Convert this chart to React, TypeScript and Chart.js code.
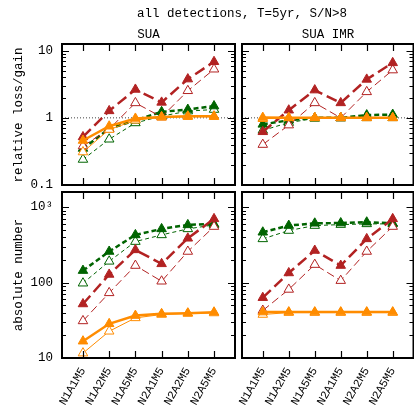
import React, { useEffect, useRef } from 'react';
import { Chart, registerables } from 'chart.js';
Chart.register(...registerables);

const categories = ['N1A1M5', 'N1A2M5', 'N1A5M5', 'N2A1M5', 'N2A2M5', 'N2A5M5'];

// relative loss/gain, SUA
const relSuaRedFilled = [0.52, 1.27, 2.65, 1.7, 3.78, 6.85];
const relSuaRedOpen = [0.38, 0.68, 1.67, 1.03, 2.53, 5.3];
const relSuaGreenFilled = [0.35, 0.69, 0.92, 1.23, 1.33, 1.5];
const relSuaGreenOpen = [0.24, 0.48, 0.84, 1.06, 1.26, 1.33];
const relSuaOrangeFilled = [0.46, 0.75, 0.98, 1.03, 1.06, 1.06];
const relSuaOrangeOpen = [0.31, 0.67, 0.92, 1.02, 1.04, 1.04];

// relative loss/gain, SUA IMR
const relImrRedFilled = [0.62, 1.3, 2.59, 1.67, 3.74, 6.6];
const relImrRedOpen = [0.4, 0.78, 1.67, 1.0, 2.44, 5.15];
const relImrGreenFilled = [0.8, 0.92, 1.0, 1.0, 1.1, 1.12];
const relImrGreenOpen = [0.65, 0.85, 0.98, 0.99, 1.0, 1.0];
const relImrOrangeFilled = [1.01, 1.0, 1.0, 1.0, 1.0, 1.0];
const relImrOrangeOpen = [0.97, 1.0, 1.0, 1.0, 1.0, 1.0];

// absolute number, SUA
const absSuaRedFilled = [52, 128, 271, 177, 386, 698];
const absSuaRedOpen = [31, 73, 168, 104, 258, 552];
const absSuaGreenFilled = [144, 258, 428, 514, 581, 599];
const absSuaGreenOpen = [98, 191, 349, 428, 514, 581];
const absSuaOrangeFilled = [16.7, 28.4, 36.5, 38.5, 39.2, 40.4];
const absSuaOrangeOpen = [11.6, 22.6, 34, 37.7, 39, 39.5];

// absolute number, SUA IMR
const absImrRedFilled = [63, 134, 266, 168, 379, 698];
const absImrRedOpen = [42.6, 81, 173, 106, 258, 552];
const absImrGreenFilled = [464, 569, 610, 615, 630, 610];
const absImrGreenOpen = [379, 489, 569, 586, 599, 599];
const absImrOrangeFilled = [40.6, 40.6, 40.6, 40.6, 40.6, 40.6];
const absImrOrangeOpen = [37.7, 40, 40, 40, 40, 40];

const relTickValues = [0.1, 1, 10];
const absTickValues = [10, 100, 1000];

const XMIN = -0.8;
const XMAX = 5.8;
const W = 420;
const H = 406;

const RED = '#b22222';
const GREEN = '#006400';
const ORANGE = '#ff8c00';
const FONT = "'Liberation Mono', monospace";

const framePlugin = {
  id: 'frame',
  afterDraw(chart: any) {
    const { ctx, chartArea: a, scales } = chart;
    ctx.save();
    ctx.strokeStyle = '#000';
    ctx.lineWidth = 1.2;
    ctx.beginPath();
    categories.forEach((_, i) => {
      const x = Math.round(scales.x.getPixelForValue(i)) + 0.5;
      ctx.moveTo(x, a.bottom);
      ctx.lineTo(x, a.bottom - 7);
      ctx.moveTo(x, a.top);
      ctx.lineTo(x, a.top + 7);
    });
    const ys = scales.y;
    const lo = Math.floor(Math.log10(ys.min));
    const hi = Math.ceil(Math.log10(ys.max));
    for (let e = lo; e <= hi; e++) {
      for (let k = 1; k <= 9; k++) {
        const v = k * Math.pow(10, e);
        if (v < ys.min * 0.999 || v > ys.max * 1.001) continue;
        const y = Math.round(ys.getPixelForValue(v)) + 0.5;
        const len = k === 1 ? 7 : 4;
        ctx.moveTo(a.left, y);
        ctx.lineTo(a.left + len, y);
        ctx.moveTo(a.right, y);
        ctx.lineTo(a.right - len, y);
      }
    }
    ctx.stroke();
    ctx.lineWidth = 2;
    ctx.strokeRect(a.left, a.top, a.right - a.left, a.bottom - a.top);
    ctx.restore();
  },
};

type Panel = {
  left: number; top: number; right: number; bottom: number;
  yMin: number; yMax: number; yTicks: number[];
  showX: boolean; showY: boolean; refLine: boolean;
  red: number[]; redOpen: number[]; green: number[]; greenOpen: number[]; orange: number[]; orangeOpen: number[];
};

const pts = (arr: number[]) => arr.map((v, i) => ({ x: i, y: v }));

function series(data: number[], color: string, filled: boolean, dash: number[]) {
  return {
    data: pts(data),
    borderColor: color,
    borderWidth: filled ? 2.5 : 1,
    borderDash: dash,
    pointStyle: 'triangle',
    pointRadius: 5.5,
    pointBackgroundColor: filled ? color : '#ffffff',
    pointBorderColor: color,
    pointBorderWidth: 1,
    fill: false,
    tension: 0,
  };
}

function makeConfig(p: Panel): any {
  const datasets: any[] = [
    series(p.orange, ORANGE, true, []),
    series(p.orangeOpen, ORANGE, false, []),
    series(p.red, RED, true, [11, 5]),
    series(p.redOpen, RED, false, [8, 4]),
    series(p.green, GREEN, true, [5, 3]),
    series(p.greenOpen, GREEN, false, [4, 3]),
  ];
  if (p.refLine) {
    datasets.push({
      data: [{ x: XMIN, y: 1 }, { x: XMAX, y: 1 }],
      borderColor: '#444',
      borderWidth: 1,
      borderDash: [1, 2],
      pointRadius: 0,
      fill: false,
    });
  }
  return {
    type: 'line',
    data: { datasets },
    options: {
      responsive: false,
      animation: false,
      events: [],
      layout: { padding: { left: 0, top: p.top, right: W - p.right, bottom: 0 } },
      plugins: { legend: { display: false }, tooltip: { enabled: false }, title: { display: false } },
      scales: {
        x: {
          type: 'linear',
          min: XMIN,
          max: XMAX,
          grid: { display: false, drawTicks: false },
          border: { display: false },
          afterBuildTicks: (s: any) => { s.ticks = categories.map((_, i) => ({ value: i })); },
          afterFit: (s: any) => { s.height = H - p.bottom; },
          ticks: {
            display: p.showX,
            autoSkip: false,
            minRotation: 60,
            maxRotation: 60,
            padding: 7,
            color: '#000',
            font: { family: FONT, size: 11.5 },
            callback: (v: any) => categories[Math.round(Number(v))],
          },
        },
        y: {
          type: 'logarithmic',
          min: p.yMin,
          max: p.yMax,
          grid: { display: false, drawTicks: false },
          border: { display: false },
          afterBuildTicks: (s: any) => { s.ticks = p.yTicks.map((v) => ({ value: v })); },
          afterFit: (s: any) => { s.width = p.left; },
          ticks: {
            display: p.showY,
            padding: 9,
            color: '#000',
            font: { family: FONT, size: 12.5 },
            callback: (v: any) => (Number(v) === 1000 ? '10\u00b3' : String(v)),
          },
        },
      },
    },
    plugins: [framePlugin],
  };
}

const panels: Panel[] = [
  { left: 62, top: 44, right: 235, bottom: 185, yMin: 0.1, yMax: 12.59, yTicks: relTickValues, showX: false, showY: true, refLine: true,
    red: relSuaRedFilled, redOpen: relSuaRedOpen, green: relSuaGreenFilled, greenOpen: relSuaGreenOpen, orange: relSuaOrangeFilled, orangeOpen: relSuaOrangeOpen },
  { left: 242, top: 44, right: 415.5, bottom: 185, yMin: 0.1, yMax: 12.59, yTicks: relTickValues, showX: false, showY: false, refLine: true,
    red: relImrRedFilled, redOpen: relImrRedOpen, green: relImrGreenFilled, greenOpen: relImrGreenOpen, orange: relImrOrangeFilled, orangeOpen: relImrOrangeOpen },
  { left: 62, top: 192, right: 235, bottom: 358, yMin: 10, yMax: 1585, yTicks: absTickValues, showX: true, showY: true, refLine: false,
    red: absSuaRedFilled, redOpen: absSuaRedOpen, green: absSuaGreenFilled, greenOpen: absSuaGreenOpen, orange: absSuaOrangeFilled, orangeOpen: absSuaOrangeOpen },
  { left: 242, top: 192, right: 415.5, bottom: 358, yMin: 10, yMax: 1585, yTicks: absTickValues, showX: true, showY: false, refLine: false,
    red: absImrRedFilled, redOpen: absImrRedOpen, green: absImrGreenFilled, greenOpen: absImrGreenOpen, orange: absImrOrangeFilled, orangeOpen: absImrOrangeOpen },
];

function PanelChart({ p }: { p: Panel }) {
  const ref = useRef<HTMLCanvasElement>(null);
  useEffect(() => {
    if (!ref.current) return;
    const chart = new Chart(ref.current, makeConfig(p));
    return () => chart.destroy();
  }, [p]);
  return (
    <canvas
      ref={ref}
      width={W}
      height={H}
      style={{ position: 'absolute', left: 0, top: 0, width: W, height: H }}
    />
  );
}

const textBase: React.CSSProperties = {
  position: 'absolute',
  fontFamily: FONT,
  fontSize: 12.5,
  color: '#000',
  whiteSpace: 'nowrap',
  lineHeight: 1,
  transform: 'translate(-50%, -50%)',
};

export default function App() {
  return (
    <div style={{ position: 'fixed', left: 0, top: 0, width: 414, height: 406, overflow: 'hidden', background: '#fff' }}>
      {panels.map((p, i) => (
        <PanelChart key={i} p={p} />
      ))}
      <div style={{ ...textBase, left: 242, top: 14 }}>all detections, T=5yr, S/N&gt;8</div>
      <div style={{ ...textBase, left: 148.5, top: 35 }}>SUA</div>
      <div style={{ ...textBase, left: 328, top: 35 }}>SUA IMR</div>
      <div style={{ ...textBase, left: 19, top: 115, transform: 'translate(-50%, -50%) rotate(-90deg)' }}>relative loss/gain</div>
      <div style={{ ...textBase, left: 19, top: 275, transform: 'translate(-50%, -50%) rotate(-90deg)' }}>absolute number</div>
    </div>
  );
}
